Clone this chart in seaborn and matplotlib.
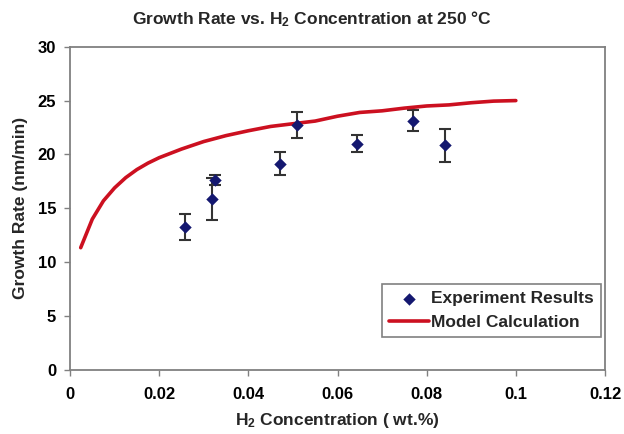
import matplotlib
matplotlib.use("Agg")
import matplotlib.pyplot as plt
import seaborn as sns
import pandas as pd

# Experimental data
exp_conc = [0.0257, 0.0318, 0.0326, 0.0472, 0.0510, 0.0644, 0.0770, 0.0840]
exp_rate = [13.3, 15.85, 17.6, 19.15, 22.75, 21.0, 23.15, 20.85]
exp_err = [1.2, 1.95, 0.45, 1.1, 1.2, 0.8, 0.95, 1.55]

# Model calculation
model_conc = [0.0024, 0.005, 0.0075, 0.01, 0.0125, 0.015, 0.0175, 0.02, 0.025,
              0.03, 0.035, 0.04, 0.045, 0.05, 0.055, 0.06, 0.065, 0.07, 0.075,
              0.08, 0.085, 0.09, 0.095, 0.1]
model_rate = [11.35, 14.0, 15.7, 16.9, 17.85, 18.6, 19.2, 19.7, 20.5,
              21.2, 21.75, 22.2, 22.6, 22.85, 23.1, 23.55, 23.9, 24.05, 24.3,
              24.5, 24.6, 24.8, 24.95, 25.0]

x_ticks = [0, 0.02, 0.04, 0.06, 0.08, 0.1, 0.12]
x_tick_labels = ["0", "0.02", "0.04", "0.06", "0.08", "0.1", "0.12"]
y_ticks = [0, 5, 10, 15, 20, 25, 30]
y_tick_labels = ["0", "5", "10", "15", "20", "25", "30"]

sns.set_style("white")
FAM = 'Liberation Sans'
plt.rcParams['font.family'] = FAM
plt.rcParams['mathtext.fontset'] = 'custom'
plt.rcParams['mathtext.rm'] = 'Liberation Sans:bold'
plt.rcParams['mathtext.default'] = 'rm'

fig = plt.figure(figsize=(6.24, 4.34), dpi=100)
ax = fig.add_axes([70/624, 1-370/434, (605-70)/624, (370-46.7)/434])

exp_df = pd.DataFrame({"conc": exp_conc, "rate": exp_rate})
model_df = pd.DataFrame({"conc": model_conc, "rate": model_rate})

ax.errorbar(exp_conc, exp_rate, yerr=exp_err, fmt='none', ecolor='#333333',
            elinewidth=1.5, capsize=4, capthick=1.5, zorder=2)
sns.lineplot(data=model_df, x="conc", y="rate", ax=ax, color='#cc1020',
             linewidth=2.6, label="Model Calculation", zorder=3)
sns.scatterplot(data=exp_df, x="conc", y="rate", ax=ax, marker='D', s=40,
                color='#141870', edgecolor='#141870', linewidth=0,
                label="Experiment Results", zorder=4)

handles, labels = ax.get_legend_handles_labels()
if ax.get_legend() is not None:
    ax.get_legend().remove()

ax.set_xlim(0, 0.12)
ax.set_ylim(0, 30)
ax.set_xticks(x_ticks)
ax.set_xticklabels(x_tick_labels, family=FAM, weight='bold', fontsize=12)
ax.set_yticks(y_ticks)
ax.set_yticklabels(y_tick_labels, family=FAM, weight='bold', fontsize=12)

for s in ax.spines.values():
    s.set_color('#808080')
    s.set_linewidth(1.3)
ax.tick_params(axis='both', which='major', direction='out', length=4, width=1,
               color='#808080', labelcolor='black')
ax.tick_params(axis='x', bottom=True, pad=8)
ax.tick_params(axis='y', left=True, pad=6)

ax.set_xlabel("H$_2$ Concentration ( wt.%)", family=FAM, fontsize=12.5,
              weight='bold', labelpad=7)
ax.set_ylabel("Growth Rate (nm/min)", family=FAM, fontsize=12.5,
              weight='bold', labelpad=7)
fig.text(312/624, 1-19.5/434, "Growth Rate vs. H$_2$ Concentration at 250 °C",
         ha='center', va='center', family=FAM, fontsize=12.5, weight='bold')

order = [labels.index("Experiment Results"), labels.index("Model Calculation")]
leg = fig.legend([handles[i] for i in order], [labels[i] for i in order],
                 loc='upper left', bbox_to_anchor=(382/624, 1-284/434),
                 frameon=True, fancybox=False, framealpha=1, edgecolor='#808080',
                 prop={'family': FAM, 'weight': 'bold', 'size': 12.5},
                 handlelength=2.3, handletextpad=0.15, borderpad=0.4,
                 borderaxespad=0, labelspacing=0.5)
leg.get_frame().set_linewidth(1.2)

fig.savefig("out.png", dpi=100)
